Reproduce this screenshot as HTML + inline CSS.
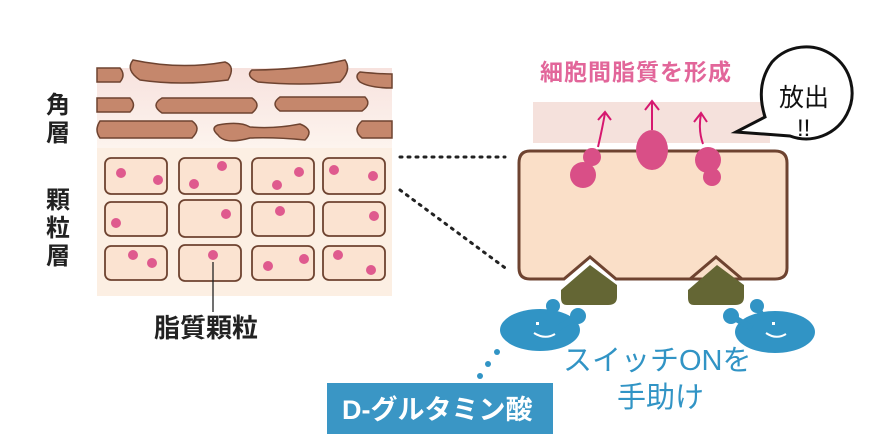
<!DOCTYPE html>
<html><head><meta charset="utf-8"><style>
html,body{margin:0;padding:0;background:#fff}
svg{display:block}
text{font-family:"Liberation Sans","Noto Sans CJK JP",sans-serif}
</style></head><body>
<svg width="880" height="436" viewBox="0 0 880 436" xmlns="http://www.w3.org/2000/svg">
<defs>
<linearGradient id="g1" x1="0" y1="0" x2="0" y2="1">
<stop offset="0" stop-color="#f7e2de"/><stop offset="1" stop-color="#fdf4ee"/>
</linearGradient>
</defs>
<rect x="97" y="68" width="295" height="80" fill="url(#g1)"/>
<rect x="97" y="148" width="295" height="148" fill="#fcefe3"/>
<g fill="#c5876c" stroke="#6e4330" stroke-width="1.5">
<path d="M97 68 H120 Q126 75 120 82 H97Z"/>
<path d="M133 60 Q180 70 225 62 Q236 66 228 80 Q180 86 140 80 Q125 70 133 60Z"/>
<path d="M252 70 Q300 70 345 60 Q352 70 340 82 Q300 86 258 82 Q245 76 252 70Z"/>
<path d="M360 72 Q380 74 392 74 V88 Q370 88 360 82 Q354 76 360 72Z"/>
<path d="M97 98 H130 Q137 105 130 112 H97Z"/>
<path d="M162 98 H252 Q262 105 252 113 H162 Q150 105 162 98Z"/>
<path d="M280 97 H365 Q372 104 362 111 H280 Q270 104 280 97Z"/>
<path d="M100 121 H192 Q202 128 192 138 H100 Q94 130 100 121Z"/>
<path d="M218 125 Q240 121 250 127 Q275 129 300 124 Q315 130 305 140 Q275 137 250 138 Q225 145 218 135 Q210 128 218 125Z"/>
<path d="M362 121 H392 V138 H362 Q352 130 362 121Z"/>
</g>
<g fill="#fbe3d1" stroke="#6e4330" stroke-width="1.8">
<rect x="105" y="158" width="62" height="36" rx="6"/>
<rect x="179" y="158" width="62" height="36" rx="6"/>
<rect x="252" y="158" width="62" height="36" rx="6"/>
<rect x="323" y="158" width="62" height="36" rx="6"/>
<rect x="105" y="202" width="62" height="34" rx="6"/>
<rect x="179" y="200" width="62" height="37" rx="6"/>
<rect x="252" y="202" width="62" height="34" rx="6"/>
<rect x="323" y="202" width="62" height="34" rx="6"/>
<rect x="105" y="246" width="62" height="34" rx="6"/>
<rect x="179" y="245" width="62" height="36" rx="6"/>
<rect x="252" y="246" width="62" height="34" rx="6"/>
<rect x="323" y="246" width="62" height="34" rx="6"/>
</g>
<g fill="#df5a8e">
<circle cx="121" cy="173" r="5"/><circle cx="158" cy="180" r="5"/>
<circle cx="222" cy="166" r="5"/><circle cx="194" cy="184" r="5"/>
<circle cx="299" cy="172" r="5"/><circle cx="277" cy="185" r="5"/>
<circle cx="334" cy="170" r="5"/><circle cx="373" cy="176" r="5"/>
<circle cx="116" cy="223" r="5"/><circle cx="226" cy="214" r="5"/>
<circle cx="280" cy="211" r="5"/><circle cx="374" cy="216" r="5"/>
<circle cx="133" cy="255" r="5"/><circle cx="152" cy="263" r="5"/>
<circle cx="213" cy="255" r="5"/><circle cx="268" cy="266" r="5"/>
<circle cx="304" cy="259" r="5"/><circle cx="338" cy="255" r="5"/><circle cx="371" cy="270" r="5"/>
</g>
<line x1="213" y1="262" x2="213" y2="312" stroke="#222" stroke-width="1.3"/>
<text x="154" y="337" font-size="26" font-weight="bold" fill="#222">脂質顆粒</text>
<text x="46" y="113" font-size="24" font-weight="bold" fill="#222">角</text>
<text x="46" y="141" font-size="24" font-weight="bold" fill="#222">層</text>
<text x="46" y="208" font-size="24" font-weight="bold" fill="#222">顆</text>
<text x="46" y="236" font-size="24" font-weight="bold" fill="#222">粒</text>
<text x="46" y="264" font-size="24" font-weight="bold" fill="#222">層</text>
<line x1="400" y1="157" x2="505" y2="157" stroke="#222" stroke-width="3" stroke-dasharray="2 6" stroke-linecap="round"/>
<line x1="400" y1="190" x2="508" y2="270" stroke="#222" stroke-width="3" stroke-dasharray="2 6" stroke-linecap="round"/>
<rect x="533" y="102" width="237" height="41" fill="#f5e1dc"/>
<path d="M530 151 H775 Q787 151 787 163 V268 Q787 279 775 279 H616 L590 257 L564 279 H530 Q519 279 519 268 V163 Q519 151 530 151Z M617 279 H690 L716 257 L742 279Z" fill="#fadfc8" stroke="#6e4330" stroke-width="3"/>
<path d="M590 265 L617 285 V297 Q617 305 608 305 H567 Q561 305 561 298 V290Z" fill="#646634"/>
<path d="M717 265 L744 285 V297 Q744 305 735 305 H694 Q688 305 688 298 V290Z" fill="#646634"/>
<g fill="#d94f87">
<circle cx="583" cy="175" r="13"/><circle cx="592" cy="157" r="9"/>
<ellipse cx="652" cy="150" rx="16" ry="20"/>
<circle cx="708" cy="160" r="13"/><circle cx="712" cy="177" r="9"/>
</g>
<g stroke="#d6186f" stroke-width="2" fill="none">
<path d="M598 147 Q602 130 605 113 M598 120 L605 112 L611 120"/>
<path d="M652 130 V102 M645 110 L652 101 L659 110"/>
<path d="M703 144 Q698 130 701 114 M694 122 L701 113 L707 122"/>
</g>
<text x="540" y="80" font-size="23" fill="#e2669a" font-weight="bold" letter-spacing="1">細胞間脂質を形成</text>
<path d="M772 62 A46 46 0 1 1 790 136 L736 132 L765 117 Q755 85 772 62Z" fill="#fff" stroke="#111" stroke-width="3"/>
<text x="779" y="106" font-size="25" fill="#111">放出</text>
<text x="797" y="136" font-size="24" font-family="Liberation Sans, sans-serif" fill="#111">!!</text>
<g fill="#3194c5">
<ellipse cx="540" cy="330" rx="40" ry="21"/>
<circle cx="553" cy="306" r="7"/><circle cx="578" cy="316" r="8"/>
<path d="M546 320 L553 306 M558 328 L578 316" stroke="#3194c5" stroke-width="6"/>
<ellipse cx="775" cy="332" rx="40" ry="21"/>
<circle cx="757" cy="306" r="7"/><circle cx="731" cy="316" r="8"/>
<path d="M764 320 L757 306 M752 328 L731 316" stroke="#3194c5" stroke-width="6"/>
<circle cx="497" cy="352" r="3"/><circle cx="488" cy="364" r="3"/><circle cx="480" cy="376" r="3"/>
</g>
<g fill="#fff"><rect x="536" y="322" width="3" height="3"/><rect x="772" y="322" width="3" height="3"/></g>
<path d="M534 333 Q545 340 555 334 M766 333 Q776 340 786 334" stroke="#fff" stroke-width="2" fill="none"/>
<text x="563" y="370" font-size="29" fill="#3194c5">スイッチONを</text>
<text x="617" y="407" font-size="29" fill="#3194c5">手助け</text>
<rect x="327" y="383" width="226" height="51" fill="#3a96c5"/>
<text x="342" y="419" font-size="27" font-weight="bold" fill="#fff">D-グルタミン酸</text>
</svg>
</body></html>
